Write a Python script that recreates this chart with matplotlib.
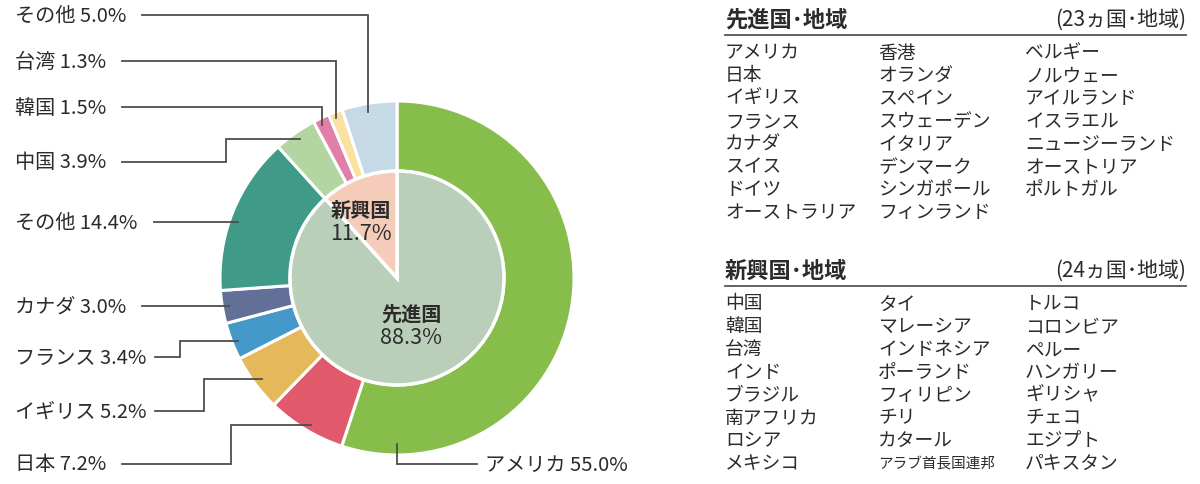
import matplotlib
matplotlib.use("Agg")
import matplotlib.pyplot as plt

plt.rcParams['font.family'] = ['Noto Sans CJK JP', 'DejaVu Sans']

# outer ring: countries / regions
outer_labels = ['アメリカ', '日本', 'イギリス', 'フランス', 'カナダ', 'その他',
                '中国', '韓国', '台湾', 'その他']
outer_values = [55.0, 7.2, 5.2, 3.4, 3.0, 14.4, 3.9, 1.5, 1.3, 5.0]
outer_colors = ['#87bd4a', '#e05a6c', '#e5b85a', '#4499c8', '#627097', '#3f9a87',
                '#b2d5a2', '#e07fa8', '#fbe09e', '#c6d9e6']

# inner pie: developed / emerging
inner_labels = ['先進国', '新興国']
inner_values = [88.3, 11.7]
inner_colors = ['#b9cfba', '#f5cbb9']

developed = ['アメリカ', '日本', 'イギリス', 'フランス', 'カナダ', 'スイス', 'ドイツ', 'オーストラリア',
             '香港', 'オランダ', 'スペイン', 'スウェーデン', 'イタリア', 'デンマーク', 'シンガポール', 'フィンランド',
             'ベルギー', 'ノルウェー', 'アイルランド', 'イスラエル', 'ニュージーランド', 'オーストリア', 'ポルトガル']
emerging = ['中国', '韓国', '台湾', 'インド', 'ブラジル', '南アフリカ', 'ロシア', 'メキシコ',
            'タイ', 'マレーシア', 'インドネシア', 'ポーランド', 'フィリピン', 'チリ', 'カタール', 'アラブ首長国連邦',
            'トルコ', 'コロンビア', 'ペルー', 'ハンガリー', 'ギリシャ', 'チェコ', 'エジプト', 'パキスタン']
condensed = {'アラブ首長国連邦'}

H = 485
TXT = '#2b2b2b'
LINE = '#4d4d4d'


def P(y):
    # pixel row (from top) -> data y
    return H - y


fig = plt.figure(figsize=(12, 4.85), dpi=100)
ax = fig.add_axes([0, 0, 1, 1])

cx, cy = 397, 279
R = 177

ax.pie(outer_values, colors=outer_colors, radius=R, center=(cx, P(cy)),
       startangle=90, counterclock=False,
       wedgeprops=dict(width=70, edgecolor='white', linewidth=2.2))
ax.pie(inner_values, colors=inner_colors, radius=107, center=(cx, P(cy)),
       startangle=90, counterclock=False,
       wedgeprops=dict(edgecolor='white', linewidth=2.5))

ax.set_xlim(0, 1200)
ax.set_ylim(0, H)
ax.set_aspect('equal')
ax.axis('off')

# leader lines: (text x, text y, path of line in pixels)
label_pos = [
    (485, 465, [(477, 465), (397, 465), (397, 445)]),
    (15, 465, [(122, 465), (231, 465), (231, 426), (311, 426)]),
    (15, 412, [(155, 412), (204, 412), (204, 380), (262, 380)]),
    (15, 358, [(155, 358), (180, 358), (180, 342), (238, 342)]),
    (15, 307, [(142, 307), (229, 307)]),
    (15, 223, [(154, 223), (238, 223)]),
    (15, 163, [(122, 163), (226, 163), (226, 140), (300, 140)]),
    (15, 108, [(122, 108), (322, 108), (322, 126)]),
    (15, 62, [(122, 62), (336, 62), (336, 119)]),
    (15, 16, [(142, 16), (368, 16), (368, 113)]),
]

for (lab, val), (tx, ty, path) in zip(zip(outer_labels, outer_values), label_pos):
    ax.text(tx, P(ty), f'{lab} {val:.1f}%', fontsize=14.5, color=TXT,
            ha='left', va='center')
    ax.plot([p[0] for p in path], [P(p[1]) for p in path], color=LINE, lw=1.3,
            solid_joinstyle='miter')

# inner labels
for (lab, val), (tx, ty) in zip(zip(inner_labels, inner_values), [(411, 314), (361, 210)]):
    ax.text(tx, P(ty), lab, fontsize=14.5, fontweight='bold', color=TXT, ha='center', va='center')
    ax.text(tx, P(ty + 24), f'{val:.1f}%', fontsize=15.5, color=TXT, ha='center', va='center')

# country lists on the right
col_x = [725, 878, 1025]
for title, names, top in [('先進国･地域', developed, 20), ('新興国･地域', emerging, 271)]:
    ax.text(725, P(top), title, fontsize=16, fontweight='bold', color=TXT, ha='left', va='center')
    ax.text(1186, P(top), f'({len(names)}ヵ国･地域)', fontsize=15, color=TXT,
            ha='right', va='center')
    ax.plot([725, 1186], [P(top + 16), P(top + 16)], color='#555555', lw=1.3)
    for i, name in enumerate(names):
        col, row = divmod(i, 8)
        fs = 10.5 if name in condensed else 13.5
        ax.text(col_x[col], P(top + 33 + row * 22.8), name, fontsize=fs, color=TXT,
                ha='left', va='center')

fig.savefig('out.png', dpi=100)
